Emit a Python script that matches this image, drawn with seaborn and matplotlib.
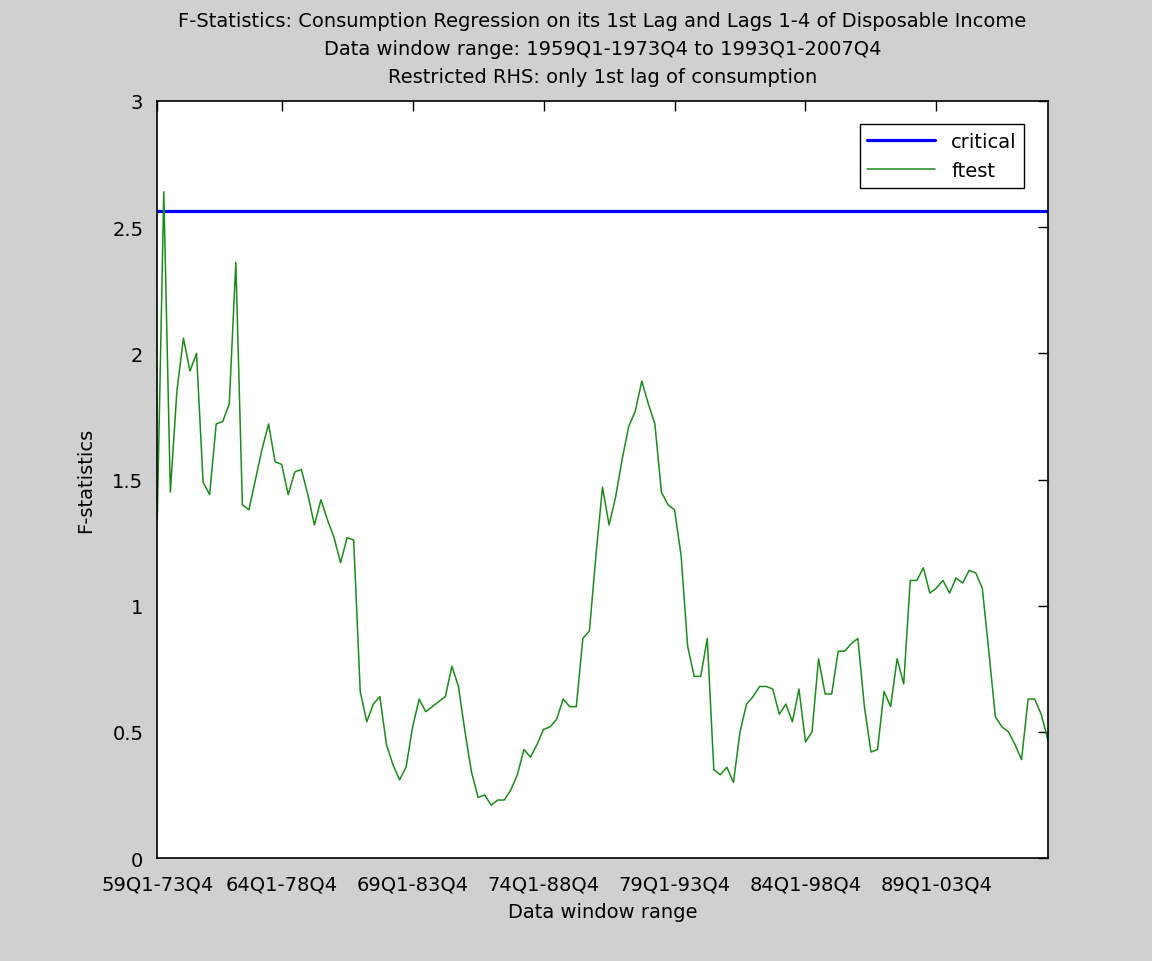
import numpy as np
import pandas as pd
import seaborn as sns
from matplotlib import pyplot as plt

# F statistic for each rolling 15-year window
ftest = [1.34, 2.64, 1.45, 1.85, 2.06, 1.93, 2.00, 1.49, 1.44, 1.72,
         1.73, 1.80, 2.36, 1.40, 1.38, 1.50, 1.62, 1.72, 1.57, 1.56,
         1.44, 1.53, 1.54, 1.44, 1.32, 1.42, 1.34, 1.27, 1.17, 1.27,
         1.26, 0.66, 0.54, 0.61, 0.64, 0.45, 0.37, 0.31, 0.36, 0.52,
         0.63, 0.58, 0.60, 0.62, 0.64, 0.76, 0.68, 0.50, 0.34, 0.24,
         0.25, 0.21, 0.23, 0.23, 0.27, 0.33, 0.43, 0.40, 0.45, 0.51,
         0.52, 0.55, 0.63, 0.60, 0.60, 0.87, 0.90, 1.20, 1.47, 1.32,
         1.43, 1.58, 1.71, 1.77, 1.89, 1.80, 1.72, 1.45, 1.40, 1.38,
         1.20, 0.84, 0.72, 0.72, 0.87, 0.35, 0.33, 0.36, 0.30, 0.50,
         0.61, 0.64, 0.68, 0.68, 0.67, 0.57, 0.61, 0.54, 0.67, 0.46,
         0.50, 0.79, 0.65, 0.65, 0.82, 0.82, 0.85, 0.87, 0.60, 0.42,
         0.43, 0.66, 0.60, 0.79, 0.69, 1.10, 1.10, 1.15, 1.05, 1.07,
         1.10, 1.05, 1.11, 1.09, 1.14, 1.13, 1.07, 0.82, 0.56, 0.52,
         0.50, 0.45, 0.39, 0.63, 0.63, 0.57, 0.47]
critical_value = 2.565

tick_pos = [1, 20, 40, 60, 80, 100, 120]
tick_labels = ['59Q1-73Q4', '64Q1-78Q4', '69Q1-83Q4', '74Q1-88Q4',
               '79Q1-93Q4', '84Q1-98Q4', '89Q1-03Q4']
ytick_pos = [0, 0.5, 1, 1.5, 2, 2.5, 3]
ytick_labels = ['0', '0.5', '1', '1.5', '2', '2.5', '3']

window = np.arange(1, len(ftest) + 1)
df = pd.DataFrame({'window': window, 'ftest': ftest,
                   'critical': [critical_value] * len(ftest)})

sns.set_style('white')
plt.rcParams['font.family'] = ['DejaVu Sans']
plt.rcParams['text.color'] = 'black'
plt.rcParams['axes.labelcolor'] = 'black'

fig = plt.figure(figsize=(11.52, 9.62), dpi=100, facecolor='#d0d0d0')
ax = fig.add_axes([0.1365, 0.107, 0.773, 0.787])
ax.set_facecolor('white')

sns.lineplot(data=df, x='window', y='critical', ax=ax, color='#0000ff',
             linewidth=2.3, label='critical')
sns.lineplot(data=df, x='window', y='ftest', ax=ax, color='#1a8c1a',
             linewidth=1.1, label='ftest')

ax.set_xlim(1, 137)
ax.set_ylim(0, 3)
ax.set_xticks(tick_pos)
ax.set_xticklabels(tick_labels, fontsize=14)
ax.set_yticks(ytick_pos)
ax.set_yticklabels(ytick_labels, fontsize=14)
ax.tick_params(direction='in', length=7, width=1, top=True, right=True,
               colors='black')
ax.tick_params(axis='x', pad=12)
ax.tick_params(axis='y', pad=10)

for s in ax.spines.values():
    s.set_color('black')
    s.set_linewidth(1.2)

ax.set_xlabel('Data window range', fontsize=14, labelpad=6)
ax.set_ylabel('F-statistics', fontsize=14, labelpad=12)
ax.set_title('F-Statistics: Consumption Regression on its 1st Lag and Lags 1-4 of Disposable Income\n'
             'Data window range: 1959Q1-1973Q4 to 1993Q1-2007Q4\n'
             'Restricted RHS: only 1st lag of consumption',
             fontsize=14, linespacing=1.6, pad=14)

leg = ax.legend(loc='upper right', fontsize=14, handlelength=3.5,
                fancybox=False, framealpha=1, edgecolor='black',
                borderaxespad=1.2, labelspacing=0.5)
leg.get_frame().set_linewidth(1.0)

fig.savefig('out.png', dpi=100, facecolor=fig.get_facecolor())
